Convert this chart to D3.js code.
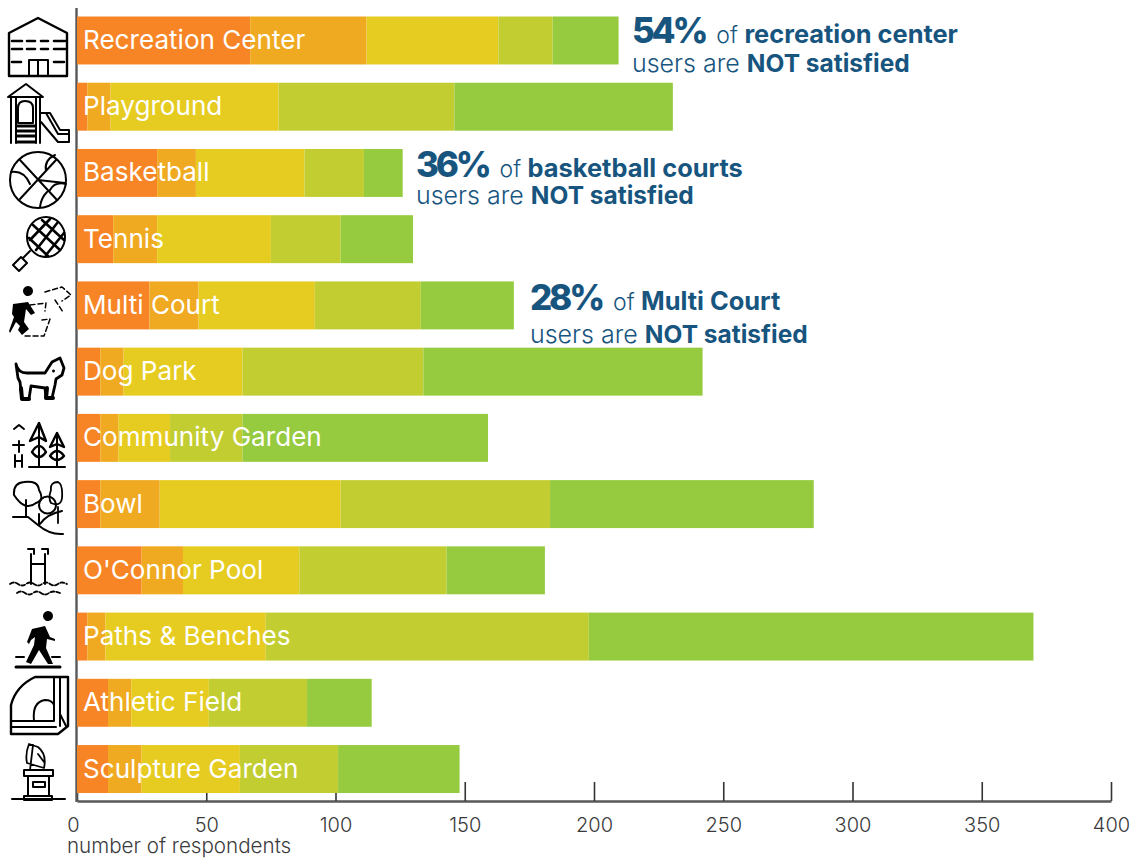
<!DOCTYPE html>
<html><head><meta charset="utf-8">
<script src="https://cdn.jsdelivr.net/npm/d3@7"></script>
<style>
html,body{margin:0;padding:0;background:#fff;overflow:hidden}
svg{display:block}
text{font-family:Inter,Lato,"Noto Sans",sans-serif}
</style></head><body>
<svg id="c" width="1130" height="858"></svg>
<script>
const categories=["Recreation Center","Playground","Basketball","Tennis","Multi Court","Dog Park","Community Garden","Bowl","O'Connor Pool","Paths & Benches","Athletic Field","Sculpture Garden"];
const level1=[67,4,31,14,28,9,9,9,25,4,12,12];
const level2=[45,9,15,17,19,9,7,23,16,7,9,13];
const level3=[51,65,42,44,45,46,20,70,45,62,30,38];
const level4=[21,68,23,27,41,70,28,81,57,125,38,38];
const level5=[25.5,84.5,15,28,36,108,95,102,38,172,25,47];
const levelColors=["#F78525","#EFAA21","#E6CB20","#C2CD31","#96CA3F"];
const tickValues=[0,50,100,150,200,250,300,350,400];
const axisTitle="number of respondents";
const notes=[
 {cat:"Recreation Center",pct:"54%",what:"recreation center"},
 {cat:"Basketball",pct:"36%",what:"basketball courts"},
 {cat:"Multi Court",pct:"28%",what:"Multi Court"}];

const levels=[level1,level2,level3,level4,level5];
const rows=categories.map((c,i)=>{const r={cat:c};levels.forEach((l,k)=>r["l"+k]=l[i]);return r;});
const svg=d3.select("#c");
const x=d3.scaleLinear().domain([0,400]).range([77,1111]);
const y=d3.scaleBand().domain(categories).range([16.5,793]).paddingInner(0.276);
const stack=d3.stack().keys(levels.map((_,k)=>"l"+k))(rows);

// axis (ticks sit under the bars)
const axisG=svg.append("g").attr("transform","translate(0,801)")
 .call(d3.axisBottom(x).tickValues(tickValues).tickSizeInner(-19).tickSizeOuter(0).tickPadding(0));
axisG.select(".domain").attr("stroke","#58595b").attr("stroke-width",2.4);
axisG.selectAll(".tick line").attr("stroke","#333").attr("stroke-width",1.6);
axisG.selectAll(".tick text").attr("y",20).attr("dy",0).attr("dominant-baseline","auto")
 .attr("dx",d=>d===0?-4:0).attr("transform","translate(0,11)")
 .style("font-size","20px").style("font-weight",300).style("font-family","Inter").attr("fill","#3a3a3c");
svg.append("line").attr("x1",76.5).attr("x2",76.5).attr("y1",8).attr("y2",802).attr("stroke","#58595b").attr("stroke-width",2.4);
svg.append("text").attr("x",67).attr("y",852.5).attr("font-size",20.6).attr("font-weight",300).attr("fill","#3a3a3c").text(axisTitle);

// bars
svg.append("g").selectAll("g").data(stack).join("g").attr("fill",(d,i)=>levelColors[i])
 .selectAll("rect").data(d=>d).join("rect")
 .attr("x",d=>x(d[0])).attr("width",d=>x(d[1])-x(d[0]))
 .attr("y",d=>y(d.data.cat)).attr("height",y.bandwidth());

// labels
svg.append("g").selectAll("text").data(categories).join("text")
 .attr("x",83).attr("y",c=>y(c)+y.bandwidth()/2+8.5)
 .attr("fill","#fff").attr("font-size",26.1).attr("font-weight",400).text(c=>c);

// annotations
const noteX={"Recreation Center":632,"Basketball":416,"Multi Court":530};
const noteDy={"Recreation Center":[26,55],"Basketball":[28,55.5],"Multi Court":[29,62]};
notes.forEach(n=>{
 const top=y(n.cat);
 const g=svg.append("g").attr("fill","#17557F");
 const t=g.append("text").attr("x",noteX[n.cat]).attr("y",top+noteDy[n.cat][0]);
 t.append("tspan").attr("font-size",35).attr("font-weight",800).style("letter-spacing","-3.2px").text(n.pct);
 t.append("tspan").attr("font-size",23).attr("font-weight",300).attr("dx",11).text("of ");
 t.append("tspan").attr("font-size",25.4).attr("font-weight",700).text(n.what);
 const t2=g.append("text").attr("x",noteX[n.cat]).attr("y",top+noteDy[n.cat][1]);
 t2.append("tspan").attr("font-size",25).attr("font-weight",300).text("users are ");
 t2.append("tspan").attr("font-size",24.5).attr("font-weight",700).text("NOT satisfied");
});

// pictograms
const ic=svg.append("g").attr("fill","none").attr("stroke","#000").attr("stroke-width",2).attr("stroke-linejoin","round").attr("stroke-linecap","round");
const P=(d,o={})=>{const p=ic.append("path").attr("d",d);Object.entries(o).forEach(([k,v])=>p.attr(k,v));return p;};
const solid={fill:"#000",stroke:"none"};
// building
P("M9 76V33L38 18L67 33V76Z",{"stroke-width":2.4});
P("M29 76V60H48V76M38 60V76");
P("M12 41H22M27 41H35M41 41H48M54 41H65M12 49H22M27 49H35M41 49H48M54 49H65M12 62H21M54 62H64",{"stroke-width":2.6});
// playground
P("M8 97L26 84L43 97ZM11 97V143M16 97V143M36 97V143M40 97V143M18 123V108Q18 101 25 101Q33 101 33 108V123Z");
P("M17 126H35M17 131H35M17 136H35M17 142H35",{"stroke-width":3});
P("M41 113H50L60 130H69V142H58L41 122M46 113L58 134H69");
// basketball
P("M66 180A28 28 0 1 1 10 180A28 28 0 1 1 66 180Z");
P("M20 160L57 200M56 160L20 199M11 172Q24 170 30 184M38 180L65 183M46 171Q44 160 55 155M47 192Q41 198 40 207M50 190Q55 181 66 184");
// racket
P("M65 237A19 20 0 1 1 27 237A19 20 0 1 1 65 237Z");
P("M33 225L60 250M42 220L64 240M29 238L48 256M36 250L58 222M30 240L50 219M46 255L64 233",{"stroke-width":2.6});
P("M30 251L23 258M13 265L21 257L27 263L19 271Z");
// runner
P("M23 291a5 5 0 1 1 0 .1ZM13 304L28 302L35 313L31 315L26 309L24 322L29 329L22 335L18 330L20 326L16 322L10 333L9 331L14 317L12 314Z",solid);
P("M30 305L46 303L45 311M42 320L50 319L44 336H25M45 292L62 287L71 295L62 301M55 300L63 312",{"stroke-dasharray":"5 3","stroke-width":1.5});
// dog
P("M16 364Q18 373 27 373H45L52 362L60 358L64 368L62 375L56 379L55 385L52 398H46L45 388L31 386L29 399H22L20 382L18 378Z",{"stroke-width":2.8,"fill":"#fff"});
P("M29 399H22L21 388M53 398H46L47 388",{"stroke-width":4});
P("M52 371a1.5 1.5 0 1 1 0 .1",solid);
// garden
P("M14 429L19 425L24 429M19 441V452M13 445H24M15 455V467M22 455V467M15 461H22");
P("M39 423V467M57 433V466M29 467H65");
P("M39 423L30 441L39 437L46 441ZM32 452Q39 440 46 452Q39 462 32 452ZM57 433L50 447L57 444L64 447ZM50 456Q57 446 64 456Q57 464 50 456Z",{"stroke-width":2.4});
// bowl
P("M14 495Q13 483 24 482Q38 480 39 490Q45 500 36 503Q25 512 14 495ZM26 500V516");
P("M39 505A8.500 8.500 0 1 1 56 505A8.500 8.500 0 1 1 39 505ZM39 514V525");
P("M51 490Q50 482 58 482Q63 484 62 498Q61 507 51 503Q48 498 51 490ZM58 507V523",{"stroke-width":1.8});
P("M13 517H28L38 525Q50 535 63 534M40 524Q47 514 62 511");
// pool
P("M31 554V584M45 554V584M28 549H34V554M42 549H48V554M31 564H45");
P("M10 584Q14 581 18 584T26 584T34 584T42 584T50 584T58 584T67 584M17 593Q21 590 25 593T33 593T41 593T49 593T60 593",{"stroke-dasharray":"4 2","stroke-width":1.8});
// walker
P("M43 616a5 5 0 1 1 0 .1ZM32 629L45 626L50 637L55 639L55 641L47 639L46 648L53 664H48L39 650L31 664L26 662L34 645L35 637L31 640L29 644L27 642Z",solid);
P("M16 657H24M52 657H60");
P("M16 667H60",{"stroke-width":3});
// field
P("M11 734V705Q16 686 35 677H68V726L58 734Z",{"stroke-width":2.4});
P("M11 721H54V678M60 678V726M11 727H56",{"stroke-width":2});
P("M34 721Q32 702 45 700Q52 700 54 705");
P("M60 714L66 726");
// sculpture
P("M29 744Q25 754 27 763L44 768Q47 754 38 747ZM33 745L30 770M38 754L44 762",{"stroke-width":1.8});
P("M24 770H53V776H24ZM28 776H49V796H28ZM33 782H45V787H33ZM24 796H52V800H24ZM12 799H65");
</script>
</body></html>
